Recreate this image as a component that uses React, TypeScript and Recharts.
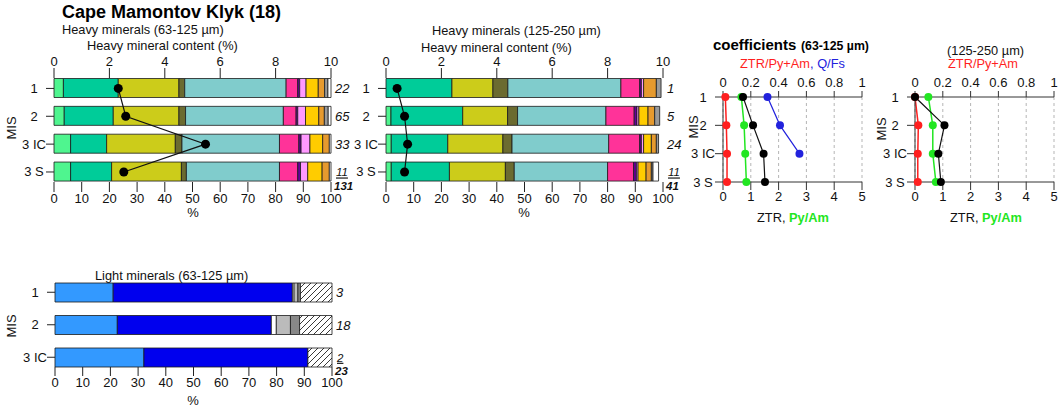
import React from 'react';
import { ComposedChart, Bar, Line, XAxis, YAxis, CartesianGrid } from 'recharts';

const FONT = 'Arial, "Liberation Sans", sans-serif';

// MIS rows (top to bottom)
const misRows = ['1', '2', '3 IC', '3 S'];
const lightRows = ['1', '2', '3 IC'];

// heavy mineral groups, stack order left to right
const heavyGroups = [
    'Orthopyroxene', 'Clinopyroxene', 'Epidote', 'Mica', 'Amphibole', 'Garnet',
    'Zircon', 'Tourmaline', 'Opaque', 'Rutile', 'Titanite', 'Other',
];

// heavy minerals 63-125 µm, % of grains per row
const fineShares = [
    [3.4, 19.8, 21.9, 2.1, 36.6, 4.2, 0.7, 2.3, 4.4, 2.3, 1.2, 1.1],
    [3.7, 17.7, 23.7, 2.4, 35.3, 4.6, 0.6, 2.8, 4.8, 2.0, 1.4, 1.0],
    [6.0, 13.0, 24.8, 2.4, 35.2, 7.0, 0.8, 3.2, 4.6, 2.4, 0, 0.6],
    [6.0, 14.8, 25.2, 1.8, 33.6, 6.6, 1.0, 2.6, 5.2, 2.6, 0, 0.6],
];
const fineContent = [2.32, 2.59, 5.47, 2.52];
const fineCounts = ['22', '65', '33', '11'];
const fineTotal = '131';

// heavy minerals 125-250 µm
const coarseShares = [
    [0, 23.8, 14.8, 5.4, 40.8, 6.8, 0.6, 0.8, 0, 4.6, 1.7, 0],
    [1.8, 25.9, 16.2, 3.6, 31.9, 10.2, 1.0, 0.7, 3.3, 2.4, 1.8, 0],
    [1.9, 20.4, 19.9, 3.3, 34.9, 11.2, 0.6, 0.8, 2.8, 1.8, 0.8, 0],
    [1.9, 21.0, 20.2, 3.2, 33.7, 9.4, 1.0, 0.6, 2.9, 1.9, 0.6, 2.0],
];
const coarseContent = [0.4, 0.67, 0.78, 0.67];
const coarseCounts = ['1', '5', '24', '11'];
const coarseTotal = '41';

// light minerals 63-125 µm
const lightGroups = ['Quartz', 'Feldspar', 'Mica', 'Chlorite', 'Carbonate', 'Rock fragments'];
const lightShares = [
    [21.0, 64.7, 0.6, 1.4, 0.9, 11.4],
    [22.5, 55.6, 1.8, 5.1, 3.3, 11.7],
    [32.1, 59.2, 0, 0, 0, 8.7],
];
const lightCounts = ['3', '18', '2'];
const lightTotal = '23';

// coefficients
const fineZtr = [0.72, 1.08, 1.46, 1.51];
const finePyAm = [0.66, 0.76, 0.8, 0.84];
const fineZtrPyAm = [0.017, 0.024, 0.029, 0.029];
const fineQFs = [0.32, 0.41, 0.55, null];
const coarseZtr = [0, 1.06, 0.84, 0.93];
const coarsePyAm = [0.48, 0.64, 0.64, 0.75];
const coarseZtrPyAm = [0, 0.024, 0.02, 0.02];

const heavyColors = [
    '#4ff58f', '#00cc99', '#cccc1a', '#6b6b30', '#80cccc', '#ff3399',
    '#660099', '#ff99ff', '#ffcc00', '#e69a2e', '#999999', '#ffffff',
];
const lightColors = ['#3399ff', '#0000ee', '#ffffff', '#bbbbbb', '#888888', 'url(#hatch)'];

const RED = '#ff1f1f';
const GREEN = '#22e622';
const BLUE = '#2222dd';

const tickStyle = { fontSize: 13, fill: '#111' };

function buildRows(names: string[], groups: string[], shares: number[][], content?: number[]) {
    return names.map((mis, i) => {
        const row: Record<string, any> = { mis };
        groups.forEach((g, j) => {
            row[g] = shares[i][j];
        });
        if (content) row.content = content[i];
        return row;
    });
}

const MisTick = (props: any) => {
    const { x, y, payload } = props;
    return (
        <text x={x - 10} y={y} dy={4.5} textAnchor="middle" fontSize={13} fill="#111">
            {payload.value}
        </text>
    );
};

const makeCountTick = (counts: string[], total: string) => (props: any) => {
    const { x, y, index } = props;
    if (index !== counts.length - 1) {
        return (
            <text x={x} y={y} dy={5} fontSize={13} fontStyle="italic" fill="#111">
                {counts[index]}
            </text>
        );
    }
    // last row: sample count underlined, total below in bold
    return (
        <g>
            <text x={x + 1} y={y + 4.5} fontSize={11.5} fontStyle="italic" textDecoration="underline" fill="#111">
                {counts[index]}
            </text>
            <text x={x - 1} y={y + 18} fontSize={11.5} fontStyle="italic" fontWeight="bold" fill="#111">
                {total}
            </text>
        </g>
    );
};

function HeavyPanel({
    left,
    yWidth,
    data,
    counts,
    total,
}: {
    left: number;
    yWidth: number;
    data: Record<string, any>[];
    counts: string[];
    total: string;
}) {
    const pad = { top: -3.5, bottom: -3.9 };
    return (
        <div style={{ position: 'absolute', left, top: 0 }}>
            <ComposedChart
                layout="vertical"
                width={yWidth + 277 + 34}
                height={215}
                data={data}
                margin={{ top: 48, right: 0, bottom: 5, left: 0 }}
            >
                <XAxis
                    xAxisId="content"
                    orientation="top"
                    type="number"
                    domain={[0, 10]}
                    ticks={[0, 2, 4, 6, 8, 10]}
                    axisLine={false}
                    tickSize={10}
                    stroke="#222"
                    tick={tickStyle}
                    height={30}
                />
                <XAxis
                    xAxisId="pct"
                    orientation="bottom"
                    type="number"
                    domain={[0, 100]}
                    ticks={[0, 10, 20, 30, 40, 50, 60, 70, 80, 90, 100]}
                    axisLine={false}
                    tickSize={10}
                    stroke="#222"
                    tick={tickStyle}
                    height={28}
                />
                <YAxis
                    yAxisId="mis"
                    type="category"
                    dataKey="mis"
                    width={yWidth}
                    tickSize={8}
                    axisLine={false}
                    stroke="#222"
                    padding={pad}
                    tick={MisTick}
                />
                <YAxis
                    yAxisId="n"
                    orientation="right"
                    type="category"
                    dataKey="mis"
                    width={34}
                    tickLine={false}
                    axisLine={false}
                    tickSize={4}
                    tickMargin={0}
                    padding={pad}
                    tick={makeCountTick(counts, total)}
                />
                {heavyGroups.map((g, j) => (
                    <Bar
                        key={g}
                        dataKey={g}
                        stackId="hm"
                        xAxisId="pct"
                        yAxisId="mis"
                        fill={heavyColors[j]}
                        stroke="#1a1a1a"
                        strokeWidth={0.8}
                        barSize={19}
                        isAnimationActive={false}
                    />
                ))}
                <Line
                    dataKey="content"
                    xAxisId="content"
                    yAxisId="mis"
                    stroke="#111"
                    strokeWidth={1.2}
                    dot={{ r: 4.5, fill: '#000', stroke: '#000', strokeWidth: 0 }}
                    isAnimationActive={false}
                />
            </ComposedChart>
        </div>
    );
}

function LightPanel() {
    const data = buildRows(lightRows, lightGroups, lightShares);
    const pad = { top: -7, bottom: -6.5 };
    return (
        <div style={{ position: 'absolute', left: 0, top: 240 }}>
            <ComposedChart
                layout="vertical"
                width={55 + 277 + 34}
                height={160}
                data={data}
                margin={{ top: 43, right: 0, bottom: 5, left: 0 }}
            >
                <defs>
                    <pattern id="hatch" patternUnits="userSpaceOnUse" width={6} height={6}>
                        <rect width={6} height={6} fill="#fff" />
                        <path d="M-1,1 l2,-2 M0,6 l6,-6 M5,7 l2,-2" stroke="#222" strokeWidth={0.9} />
                    </pattern>
                </defs>
                <XAxis
                    xAxisId="pct"
                    orientation="bottom"
                    type="number"
                    domain={[0, 100]}
                    ticks={[0, 10, 20, 30, 40, 50, 60, 70, 80, 90, 100]}
                    axisLine={false}
                    tickSize={9}
                    stroke="#222"
                    tick={tickStyle}
                    height={28}
                />
                <YAxis
                    yAxisId="mis"
                    type="category"
                    dataKey="mis"
                    width={55}
                    tickSize={8}
                    axisLine={false}
                    stroke="#222"
                    padding={pad}
                    tick={MisTick}
                />
                <YAxis
                    yAxisId="n"
                    orientation="right"
                    type="category"
                    dataKey="mis"
                    width={34}
                    tickLine={false}
                    axisLine={false}
                    tickSize={4}
                    tickMargin={0}
                    padding={pad}
                    tick={makeCountTick(lightCounts, lightTotal)}
                />
                {lightGroups.map((g, j) => (
                    <Bar
                        key={g}
                        dataKey={g}
                        stackId="lm"
                        xAxisId="pct"
                        yAxisId="mis"
                        fill={lightColors[j]}
                        stroke="#1a1a1a"
                        strokeWidth={0.8}
                        barSize={19}
                        isAnimationActive={false}
                    />
                ))}
            </ComposedChart>
        </div>
    );
}

function CoefPanel({
    left,
    yWidth,
    ztr,
    pyAm,
    ztrPyAm,
    qFs,
}: {
    left: number;
    yWidth: number;
    ztr: number[];
    pyAm: number[];
    ztrPyAm: number[];
    qFs?: (number | null)[];
}) {
    const data = misRows.map((mis, i) => ({
        mis,
        ztr: ztr[i],
        pyAm: pyAm[i],
        ratio: ztrPyAm[i],
        qFs: qFs ? qFs[i] : null,
    }));
    return (
        <div style={{ position: 'absolute', left, top: 0 }}>
            <ComposedChart
                layout="vertical"
                width={yWidth + 139 + 8}
                height={210}
                data={data}
                margin={{ top: 77, right: 8, bottom: 3, left: 0 }}
            >
                <CartesianGrid
                    xAxisId="z"
                    yAxisId="mis"
                    horizontal={false}
                    strokeDasharray="3 3"
                    stroke="#b5b5b5"
                />
                <XAxis
                    xAxisId="ratio"
                    orientation="top"
                    type="number"
                    domain={[0, 1]}
                    ticks={[0, 0.2, 0.4, 0.6, 0.8, 1]}
                    tickSize={6}
                    tickMargin={4}
                    stroke="#333"
                    tick={tickStyle}
                    height={20}
                />
                <XAxis
                    xAxisId="z"
                    orientation="bottom"
                    type="number"
                    domain={[0, 5]}
                    ticks={[0, 1, 2, 3, 4, 5]}
                    tickSize={8}
                    stroke="#333"
                    tick={tickStyle}
                    height={25}
                />
                <YAxis
                    yAxisId="mis"
                    type="category"
                    scale="point"
                    dataKey="mis"
                    width={yWidth}
                    tickSize={8}
                    stroke="#333"
                    tick={MisTick}
                />
                <Line
                    dataKey="ratio"
                    xAxisId="ratio"
                    yAxisId="mis"
                    stroke={RED}
                    strokeWidth={1.5}
                    dot={{ r: 4, fill: RED, stroke: RED, strokeWidth: 0 }}
                    isAnimationActive={false}
                />
                <Line
                    dataKey="pyAm"
                    xAxisId="z"
                    yAxisId="mis"
                    stroke={GREEN}
                    strokeWidth={1.5}
                    dot={{ r: 4, fill: GREEN, stroke: GREEN, strokeWidth: 0 }}
                    isAnimationActive={false}
                />
                <Line
                    dataKey="ztr"
                    xAxisId="z"
                    yAxisId="mis"
                    stroke="#111"
                    strokeWidth={1.2}
                    dot={{ r: 4, fill: '#000', stroke: '#000', strokeWidth: 0 }}
                    isAnimationActive={false}
                />
                {qFs && (
                    <Line
                        dataKey="qFs"
                        xAxisId="ratio"
                        yAxisId="mis"
                        stroke={BLUE}
                        strokeWidth={1.2}
                        dot={{ r: 4, fill: BLUE, stroke: BLUE, strokeWidth: 0 }}
                        isAnimationActive={false}
                    />
                )}
            </ComposedChart>
        </div>
    );
}

function Annotations() {
    const mis = (x: number, y: number) => (
        <text transform={`translate(${x},${y}) rotate(-90)`} textAnchor="middle" fontSize={13} fill="#111">
            MIS
        </text>
    );
    return (
        <svg
            width={1059}
            height={408}
            style={{ position: 'absolute', left: 0, top: 0, pointerEvents: 'none' }}
        >
            <text x={62} y={18} fontSize={18} fontWeight="bold" fill="#000">
                Cape Mamontov Klyk (18)
            </text>
            <text x={62} y={33.5} fontSize={12.8} fill="#111">Heavy minerals (63-125 µm)</text>
            <text x={87} y={50} fontSize={12.8} fill="#111">Heavy mineral content (%)</text>
            <text x={432} y={34.5} fontSize={12.8} fill="#111">Heavy minerals (125-250 µm)</text>
            <text x={421} y={51.5} fontSize={12.8} fill="#111">Heavy mineral content (%)</text>

            <text x={713} y={50} fontSize={15} fontWeight="bold" fill="#000">coefficients</text>
            <text x={801} y={50} fontSize={12.3} fontWeight="bold" fill="#000">(63-125 µm)</text>
            <text x={740} y={67.5} fontSize={12.8}>
                <tspan fill={RED}>ZTR/Py+Am</tspan>
                <tspan fill={BLUE}>, Q/Fs</tspan>
            </text>
            <text x={947} y={54.5} fontSize={12.8} fill="#111">(125-250 µm)</text>
            <text x={948} y={67.5} fontSize={12.8} fill={RED}>ZTR/Py+Am</text>

            <text x={757} y={222} fontSize={12.8}>
                <tspan fill="#111">ZTR, </tspan>
                <tspan fill={GREEN} fontWeight="bold">Py/Am</tspan>
            </text>
            <text x={950} y={222} fontSize={12.8}>
                <tspan fill="#111">ZTR, </tspan>
                <tspan fill={GREEN} fontWeight="bold">Py/Am</tspan>
            </text>

            <text x={193} y={217} fontSize={13} textAnchor="middle" fill="#111">%</text>
            <text x={524} y={217} fontSize={13} textAnchor="middle" fill="#111">%</text>
            <text x={193} y={405} fontSize={13} textAnchor="middle" fill="#111">%</text>

            <text x={95} y={279.5} fontSize={12.8} fill="#111">Light minerals (63-125 µm)</text>

            {mis(16, 128)}
            {mis(16, 326)}
            {mis(698, 127)}
            {mis(886, 129)}
        </svg>
    );
}

export default function App() {
    const fineRows = buildRows(misRows, heavyGroups, fineShares, fineContent);
    const coarseRows = buildRows(misRows, heavyGroups, coarseShares, coarseContent);
    return (
        <div
            style={{
                position: 'absolute',
                left: 0,
                top: 0,
                width: 1059,
                height: 408,
                background: '#fff',
                fontFamily: FONT,
                overflow: 'hidden',
            }}
        >
            <HeavyPanel left={0} yWidth={54} data={fineRows} counts={fineCounts} total={fineTotal} />
            <HeavyPanel left={330} yWidth={56} data={coarseRows} counts={coarseCounts} total={coarseTotal} />
            <CoefPanel
                left={690}
                yWidth={33}
                ztr={fineZtr}
                pyAm={finePyAm}
                ztrPyAm={fineZtrPyAm}
                qFs={fineQFs}
            />
            <CoefPanel left={880} yWidth={35} ztr={coarseZtr} pyAm={coarsePyAm} ztrPyAm={coarseZtrPyAm} />
            <LightPanel />
            <Annotations />
        </div>
    );
}
